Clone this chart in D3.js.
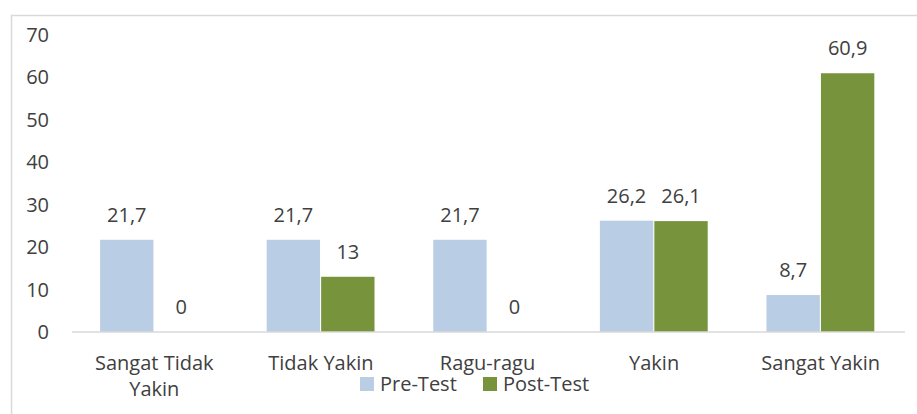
<!DOCTYPE html>
<html>
<head>
<meta charset="utf-8">
<script src="https://cdn.jsdelivr.net/npm/d3@7"></script>
<style>
  body { margin: 0; background: #fff; }
  svg { display: block; font-family: "Open Sans", sans-serif; }
</style>
</head>
<body>
<div id="chart"></div>
<script>
var categories = ["Sangat Tidak Yakin", "Tidak Yakin", "Ragu-ragu", "Yakin", "Sangat Yakin"];
var seriesNames = ["Pre-Test", "Post-Test"];
var preTest = [21.7, 21.7, 21.7, 26.2, 8.7];
var postTest = [0, 13, 0, 26.1, 60.9];
var yTicks = [0, 10, 20, 30, 40, 50, 60, 70];
var colors = ["#B9CDE5", "#77933C"];

var svgW = 917;
var svgH = 414;
var fs = 20;

var svg = d3.select("#chart").append("svg")
    .attr("width", svgW).attr("height", svgH);

// frame (only top + left show in the picture)
svg.append("rect")
    .attr("x", 11.5).attr("y", 15.5)
    .attr("width", svgW + 10).attr("height", svgH + 10)
    .attr("fill", "none").attr("stroke", "#d9d9d9").attr("stroke-width", 1.5);

var baseY = 332;
var y = d3.scaleLinear().domain([0, 70]).range([baseY, 34.6]);
var x0 = d3.scaleBand().domain(categories).range([71, 904]);
var x1 = d3.scaleBand().domain(seriesNames).range([28, 138]).padding(0.02);

var rows = categories.map(function(c, i) {
    return { cat: c, vals: [preTest[i], postTest[i]] };
});

// y tick labels
svg.selectAll(".ytick").data(yTicks).enter().append("text")
    .attr("x", 49).attr("y", d => y(d) + 7)
    .attr("text-anchor", "end")
    .attr("font-size", fs).attr("fill", "#404040")
    .text(d => d);

var groups = svg.selectAll(".grp").data(rows).enter().append("g")
    .attr("transform", d => `translate(${x0(d.cat)},0)`);

groups.selectAll("rect").data(d => d.vals.map((v, j) => ({ s: seriesNames[j], v: v, j: j })))
    .enter().append("rect")
    .attr("x", d => x1(d.s))
    .attr("width", x1.bandwidth())
    .attr("y", d => y(d.v))
    .attr("height", d => baseY - y(d.v))
    .attr("fill", d => colors[d.j]);

groups.selectAll(".val").data(d => d.vals.map((v, j) => ({ s: seriesNames[j], v: v })))
    .enter().append("text")
    .attr("x", d => x1(d.s) + x1.bandwidth() / 2)
    .attr("y", d => y(d.v) - 18)
    .attr("text-anchor", "middle")
    .attr("font-size", fs).attr("fill", "#404040")
    .text(d => String(d.v).replace(".", ","));

// baseline
svg.append("line")
    .attr("x1", 72).attr("x2", 905)
    .attr("y1", baseY).attr("y2", baseY)
    .attr("stroke", "#d9d9d9").attr("stroke-width", 1.5);

// category labels, wrapped to the band
var catText = svg.selectAll(".cat").data(categories).enter().append("text")
    .attr("x", d => x0(d) + x0.bandwidth() / 2)
    .attr("y", 370)
    .attr("text-anchor", "middle")
    .attr("font-size", fs).attr("fill", "#404040");

catText.each(function(d) {
    var t = d3.select(this);
    var words = d.split(" ");
    var line = [];
    var tspan = t.append("tspan").attr("x", t.attr("x")).attr("dy", 0);
    words.forEach(function(w) {
        line.push(w);
        tspan.text(line.join(" "));
        if (tspan.node().getComputedTextLength() > 150 && line.length > 1) {
            line.pop();
            tspan.text(line.join(" "));
            line = [w];
            tspan = t.append("tspan").attr("x", t.attr("x")).attr("dy", 26).text(w);
        }
    });
});

// legend
var legend = svg.append("g");
var legX = [360, 483];
seriesNames.forEach(function(s, i) {
    legend.append("rect")
        .attr("x", legX[i]).attr("y", 377)
        .attr("width", 14).attr("height", 14)
        .attr("fill", colors[i]);
    legend.append("text")
        .attr("x", legX[i] + 20).attr("y", 391)
        .attr("font-size", fs).attr("fill", "#404040")
        .text(s);
});
</script>
</body>
</html>
